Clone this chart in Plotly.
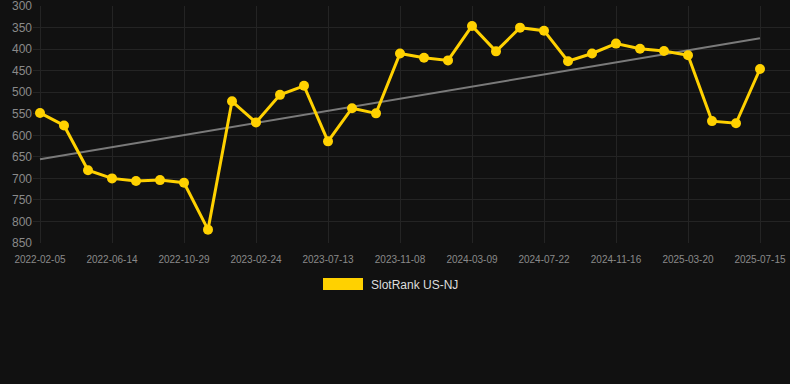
import numpy as np
import plotly.graph_objects as go

# ---- data ----
tick_labels = ["2022-02-05", "2022-06-14", "2022-10-29", "2023-02-24", "2023-07-13",
               "2023-11-08", "2024-03-09", "2024-07-22", "2024-11-16", "2025-03-20",
               "2025-07-15"]
rank_values = [548, 577, 681, 700, 706, 704, 710, 819, 521, 570, 506, 485, 614, 537, 549,
               410, 420, 426, 346, 405, 350, 357, 428, 410, 387, 399, 404, 414, 567, 572, 446]
series_name = "SlotRank US-NJ"
y_ticks = [300, 350, 400, 450, 500, 550, 600, 650, 700, 750, 800, 850]

# ---- layout helpers ----
W, H = 790, 384
L, R, T, B = 33, 0, 6, 141
pw, ph = W - L - R, H - T - B

idx = np.arange(len(rank_values))
coef = np.polyfit(idx, rank_values, 1)
trend = np.polyval(coef, idx[[0, -1]])

YELLOW = "#FFD100"
fig = go.Figure()
fig.add_trace(go.Scatter(x=idx[[0, -1]], y=trend, mode="lines",
                         line=dict(color="#7a7a7a", width=2), showlegend=False,
                         hoverinfo="skip"))
fig.add_trace(go.Scatter(x=idx, y=rank_values, mode="lines+markers", name=series_name,
                         line=dict(color=YELLOW, width=3),
                         marker=dict(color=YELLOW, size=10), showlegend=False))

# legend drawn manually as a wide rectangle + text
def px_x(p):
    return (p - L) / pw

def px_y(p):
    return (H - B - p) / ph

fig.add_shape(type="rect", xref="paper", yref="paper",
              x0=px_x(323), x1=px_x(363), y0=px_y(290), y1=px_y(278),
              fillcolor=YELLOW, line=dict(width=0))
fig.add_annotation(xref="paper", yref="paper", x=px_x(369), y=px_y(284.5),
                   text=series_name, showarrow=False, xanchor="left", yanchor="middle",
                   font=dict(size=12, color="#dddddd"))

step = 3
fig.update_layout(
    width=W, height=H,
    margin=dict(l=L, r=R, t=T, b=B),
    paper_bgcolor="#111111", plot_bgcolor="#111111",
    font=dict(family="Liberation Sans, Arial, sans-serif", color="#8a8a8a"),
    xaxis=dict(range=[-(40 - L) / 24, len(rank_values) - 1 + (W - R - 760) / 24],
               tickmode="array", tickvals=idx[::step], ticktext=tick_labels,
               showgrid=True, gridcolor="#242424", gridwidth=1, zeroline=False,
               showline=False, ticks="", ticklabelstandoff=9,
               ticklabeloverflow="allow",
               tickfont=dict(size=10, color="#8a8a8a")),
    yaxis=dict(range=[850, 299.7], tickmode="array", tickvals=y_ticks,
               showgrid=True, gridcolor="#242424", gridwidth=1, zeroline=False,
               showline=False, ticks="", ticklabeloverflow="allow",
               tickfont=dict(size=12, color="#8a8a8a")),
    showlegend=False,
)

fig.write_html("out.html", config={"displayModeBar": False},
               post_script="document.body.style.margin='0';")
